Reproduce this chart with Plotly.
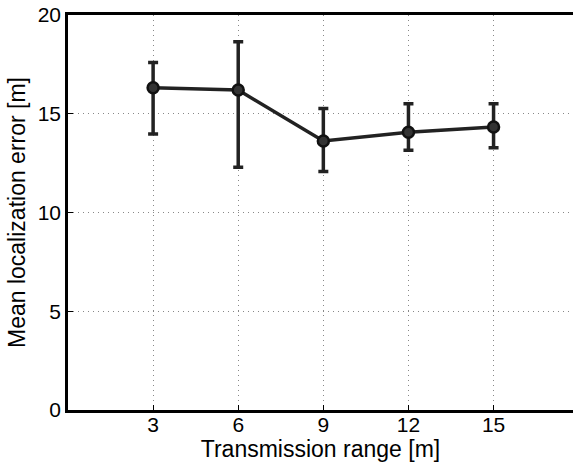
import plotly.graph_objects as go

ranges = [3, 6, 9, 12, 15]
mean_err = [16.32, 16.2, 13.62, 14.06, 14.33]
upper = [17.6, 18.65, 15.27, 15.51, 15.51]
lower = [13.97, 12.29, 12.07, 13.15, 13.28]

plus = [u - m for u, m in zip(upper, mean_err)]
minus = [m - l for m, l in zip(mean_err, lower)]

fig = go.Figure()
fig.add_trace(go.Scatter(
    x=ranges, y=mean_err, mode="lines+markers",
    line=dict(color="#222222", width=3.5),
    marker=dict(symbol="circle", size=11, color="#333333",
                line=dict(color="#111111", width=2.5)),
    error_y=dict(type="data", symmetric=False, array=plus, arrayminus=minus,
                 color="#222222", thickness=3.5, width=5),
    showlegend=False,
))

font = "Liberation Sans, Arial, Helvetica, sans-serif"
fig.update_layout(
    width=573, height=463,
    margin=dict(l=68, r=0, t=15, b=53),
    paper_bgcolor="white", plot_bgcolor="white",
    font=dict(family=font, color="black", size=21),
    xaxis=dict(range=[0, 17.8], tickvals=ranges, ticktext=[str(r) for r in ranges],
               showgrid=True, gridcolor="#888888", griddash="1px,4px", gridwidth=1,
               showline=True, linecolor="black", linewidth=2.5, mirror=True,
               ticks="inside", ticklen=5, tickcolor="black", zeroline=False,
               automargin=False, ticklabeloverflow="allow", ticklabelstandoff=-6,
               title=dict(text="Transmission range [m]", font=dict(size=23), standoff=4),
               tickfont=dict(size=21)),
    yaxis=dict(range=[0, 20], tickvals=[0, 5, 10, 15, 20],
               showgrid=True, gridcolor="#888888", griddash="1px,4px", gridwidth=1,
               showline=True, linecolor="black", linewidth=2.5,
               ticks="inside", ticklen=5, tickcolor="black", zeroline=False,
               automargin=False, ticklabeloverflow="allow",
               title=dict(text="Mean localization error [m]", font=dict(size=23), standoff=6),
               tickfont=dict(size=21)),
)

fig.write_html("out.html", config={"displayModeBar": False},
               post_script="document.body.style.margin='0';")
